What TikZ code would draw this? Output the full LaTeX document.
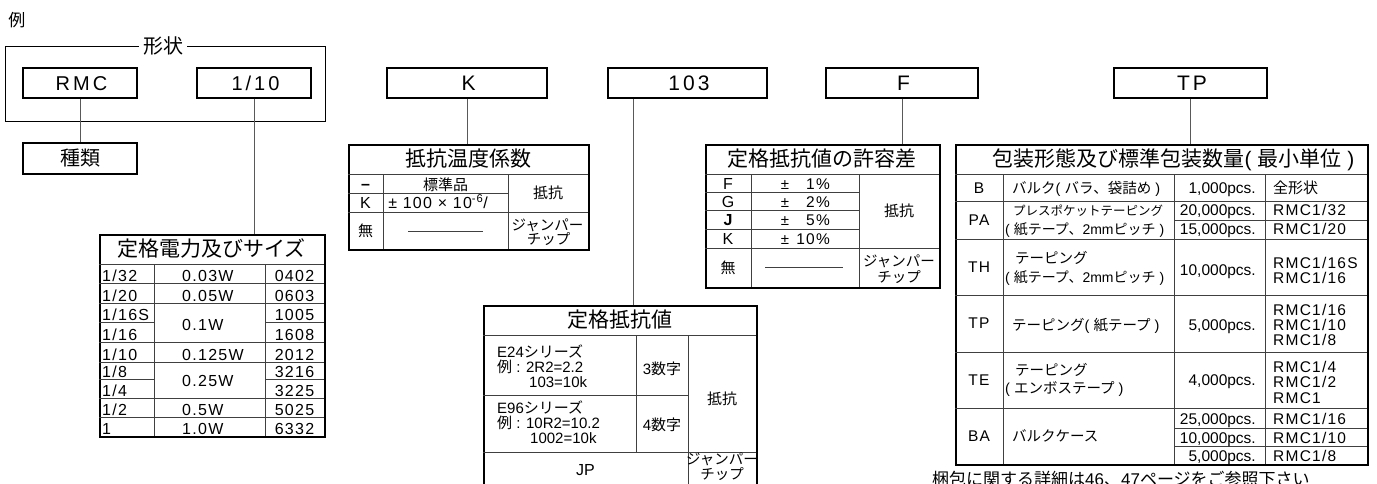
\documentclass[tikz,border=0pt]{standalone}
\usepackage{fontspec}
\setmainfont{Liberation Sans}
\newfontfamily\jp{Noto Sans CJK JP}
\newfontfamily\ls[LetterSpace=15]{Liberation Sans}
\newfontfamily\lss[LetterSpace=8]{Liberation Sans}
\newcommand\myfs[1]{\fontsize{#1}{#1}\selectfont}
\tikzset{
 keybox/.style={draw=black, line width=1.3pt, minimum height=30pt, inner sep=0pt, text height=15pt, text depth=0pt, font=\ls\myfs{21}},
 tframe/.style={draw=black, line width=1.5pt, anchor=north west, inner sep=0pt},
 tgrid/.style={draw=black!75, line width=0.9pt},
 conn/.style={draw=black!65, line width=1pt},
 ttl/.style={anchor=base, yshift=-7.8pt, inner sep=0pt, font=\jp\myfs{21}},
 cellc/.style={anchor=base, yshift=-5.5pt, inner sep=0pt},
 celll/.style={anchor=base west, yshift=-5.5pt, inner sep=0pt},
 cellr/.style={anchor=base east, yshift=-5.5pt, inner sep=0pt},
 bw/.style={anchor=base west, inner sep=0pt},
 be/.style={anchor=base east, inner sep=0pt},
 bc/.style={anchor=base, inner sep=0pt},
}
\begin{document}
\begin{tikzpicture}[x=1pt,y=-1pt,font=\myfs{15}]
\useasboundingbox (0,0) rectangle (1377,483);
\fill[white] (0,0) rectangle (1377,483);

% ---------- example label and shape frame
\node[cellc, font=\jp\myfs{17}, yshift=-0.8pt] (rei) at (17,20.5) {例};
\node[draw=black, line width=1.4pt, anchor=north west, minimum width=320pt, minimum height=75pt, inner sep=0pt] (shape) at (5,45.5) {};
\node[fill=white, inner xsep=4pt, inner ysep=1pt, font=\jp\myfs{20}] (shapettl) at (163,46) {形状};

% ---------- key boxes
\node[keybox, minimum width=114pt, font=\ls\myfs{20}] (rmc) at (80,83) {\hspace{3pt}RMC};
\node[keybox, minimum width=114pt, font=\ls\myfs{20}] (n110) at (254,83) {\hspace{3pt}1/10};
\node[keybox, minimum width=114pt, minimum height=31pt, font=\jp\myfs{20}, text height=15pt, text depth=1pt] (shurui) at (80,158.5) {種類};
\node[keybox, minimum width=160pt] (nK) at (467,83) {\hspace{3pt}K};
\node[keybox, minimum width=159pt] (n103) at (687.5,83) {\hspace{3pt}103};
\node[keybox, minimum width=152pt] (nF) at (902,83) {\hspace{3pt}F};
\node[keybox, minimum width=153pt] (nTP) at (1190.5,83) {\hspace{3pt}TP};

% ---------- table: rated power and size
\node[tframe, minimum width=225pt, minimum height=202pt] (pw) at (99,234) {};
\node[ttl] (pwttl) at (211.5,249) {定格電力及びサイズ};
\draw[tgrid] (99,264) -- (324,264);
\draw[tgrid] (154,264) -- (154,436);
\draw[tgrid] (265,264) -- (265,436);
\foreach \yy in {283,303,342,362,398,417} \draw[tgrid] (99,\yy) -- (324,\yy);
\foreach \yy in {322,379} {\draw[tgrid] (99,\yy) -- (154,\yy); \draw[tgrid] (265,\yy) -- (324,\yy);}
\begin{scope}[every node/.append style={font=\lss\myfs{16}}]
\node[bw] (pwa1) at (102,281.5) {1/32};
\node[bw] (pwa2) at (102,301.5) {1/20};
\node[bw] (pwa3) at (102,320.5) {1/16S};
\node[bw] (pwa4) at (102,340.5) {1/16};
\node[bw] (pwa5) at (102,360.5) {1/10};
\node[bw] (pwa6) at (102,377.5) {1/8};
\node[bw] (pwa7) at (102,396.5) {1/4};
\node[bw] (pwa8) at (102,415.5) {1/2};
\node[bw] (pwa9) at (102,434.5) {1};
\node[bw] (pwb1) at (182,281.5) {0.03W};
\node[bw] (pwb2) at (182,301.5) {0.05W};
\node[bw] (pwb3) at (182,330) {0.1W};
\node[bw] (pwb5) at (182,360.5) {0.125W};
\node[bw] (pwb6) at (182,386.5) {0.25W};
\node[bw] (pwb8) at (182,415.5) {0.5W};
\node[bw] (pwb9) at (182,434.5) {1.0W};
\node[bc] (pwc1) at (294.5,281.5) {0402};
\node[bc] (pwc2) at (294.5,301.5) {0603};
\node[bc] (pwc3) at (294.5,320.5) {1005};
\node[bc] (pwc4) at (294.5,340.5) {1608};
\node[bc] (pwc5) at (294.5,360.5) {2012};
\node[bc] (pwc6) at (294.5,377.5) {3216};
\node[bc] (pwc7) at (294.5,396.5) {3225};
\node[bc] (pwc8) at (294.5,415.5) {5025};
\node[bc] (pwc9) at (294.5,434.5) {6332};
\end{scope}

% ---------- table: temperature coefficient
\node[tframe, minimum width=240pt, minimum height=105pt] (tc) at (348,144) {};
\node[ttl] (tcttl) at (468,159) {抵抗温度係数};
\draw[tgrid] (348,174) -- (588,174);
\draw[tgrid] (383,174) -- (383,249);
\draw[tgrid] (508,174) -- (508,249);
\draw[tgrid] (348,193) -- (508,193);
\draw[tgrid] (348,212) -- (588,212);
\node[cellc, font=\bfseries\myfs{16}] (tca1) at (365.5,184) {–};
\node[cellc, font=\jp\myfs{15}] (tcb1) at (445.5,185) {標準品};
\node[cellc, font=\myfs{16}] (tca2) at (365.5,202.5) {K};
\node[cellc, font=\lss\myfs{16}] (tcb2) at (438,203) {± 100 × 10\textsuperscript{-6}/};
\node[cellc, font=\jp\myfs{15}] (tcc1) at (548,193) {抵抗};
\node[cellc, font=\jp\myfs{15}] (tca3) at (365.5,230.5) {無};
\draw[tgrid] (408,231) -- (483,231);
\node[cellc, font=\jp\myfs{14.5}] (tcc2) at (547.5,225) {ジャンパー};
\node[cellc, font=\jp\myfs{14.5}] (tcc3) at (548.5,239) {チップ};

% ---------- table: rated resistance
\node[tframe, minimum width=273pt, minimum height=200pt] (rv) at (483,305) {};
\node[ttl] (rvttl) at (619.5,320) {定格抵抗値};
\draw[tgrid] (483,335) -- (756,335);
\draw[tgrid] (636,335) -- (636,452);
\draw[tgrid] (688,335) -- (688,505);
\draw[tgrid] (483,395) -- (688,395);
\draw[tgrid] (483,452) -- (756,452);
\node[bw] (rva1) at (497,357) {E24{\jp シリーズ}};
\node[bw] (rva2) at (497,372) {{\jp 例} : 2R2=2.2};
\node[bw] (rva3) at (529,387) {103=10k};
\node[bw] (rvb1) at (497,413) {E96{\jp シリーズ}};
\node[bw] (rvb2) at (497,428) {{\jp 例} : 10R2=10.2};
\node[bw] (rvb3) at (530,443) {1002=10k};
\node[cellc] (rvc1) at (662,369) {3{\jp 数字}};
\node[cellc] (rvc2) at (662,425) {4{\jp 数字}};
\node[cellc, font=\jp\myfs{15}] (rvd1) at (722,399) {抵抗};
\node[cellc, font=\myfs{16}] (rvjp) at (585.5,470) {JP};
\node[cellc, font=\jp\myfs{14.5}] (rvd2) at (722,459) {ジャンパー};
\node[cellc, font=\jp\myfs{14.5}] (rvd3) at (722,474) {チップ};

% ---------- table: tolerance
\node[tframe, minimum width=234pt, minimum height=143pt] (tol) at (705,144) {};
\node[ttl] (tolttl) at (822,159) {定格抵抗値の許容差};
\draw[tgrid] (705,174) -- (939,174);
\draw[tgrid] (751,174) -- (751,287);
\draw[tgrid] (859,174) -- (859,287);
\foreach \yy in {192,210,229} \draw[tgrid] (705,\yy) -- (859,\yy);
\draw[tgrid] (705,248) -- (939,248);
\node[cellc, font=\myfs{16}] (tola1) at (728,183.5) {F};
\node[cellc, font=\myfs{16}] (tola2) at (728,201.5) {G};
\node[cellc, font=\bfseries\myfs{16}] (tola3) at (728,220) {J};
\node[cellc, font=\myfs{16}] (tola4) at (728,239) {K};
\node[cellc] (tolpm1) at (785,183.5) {±};
\node[cellc] (tolpm2) at (785,201.5) {±};
\node[cellc] (tolpm3) at (785,220) {±};
\node[cellc] (tolpm4) at (785,239) {±};
\node[cellr, font=\lss\myfs{15.5}] (tolb1) at (830,183.5) {1\%};
\node[cellr, font=\lss\myfs{15.5}] (tolb2) at (830,201.5) {2\%};
\node[cellr, font=\lss\myfs{15.5}] (tolb3) at (830,220) {5\%};
\node[cellr, font=\lss\myfs{15.5}] (tolb4) at (830,239) {10\%};
\node[cellc, font=\jp\myfs{15}] (tolc1) at (899,211) {抵抗};
\node[cellc, font=\jp\myfs{15}] (tola5) at (728,267.5) {無};
\draw[tgrid] (765,267) -- (843,267);
\node[cellc, font=\jp\myfs{14.5}] (tolc2) at (899,261) {ジャンパー};
\node[cellc, font=\jp\myfs{14.5}] (tolc3) at (899,277) {チップ};

% ---------- table: packaging
\node[tframe, minimum width=412pt, minimum height=320pt] (pk) at (955,144) {};
\node[ttl, font=\myfs{21}] (pkttl) at (1173.5,159) {{\jp 包装形態及び標準包装数量}( {\jp 最小単位} )};
\draw[tgrid] (955,174) -- (1367,174);
\foreach \xx in {1003,1174,1265} \draw[tgrid] (\xx,174) -- (\xx,464);
\foreach \yy in {201,239,295,352,408} \draw[tgrid] (955,\yy) -- (1367,\yy);
\foreach \yy in {220,428,446} \draw[tgrid] (1174,\yy) -- (1367,\yy);
% col 1
\node[cellc, font=\lss\myfs{15.5}] (pkB) at (979,188) {B};
\node[cellc, font=\lss\myfs{15.5}] (pkPA) at (979,220) {PA};
\node[cellc, font=\lss\myfs{15.5}] (pkTH) at (979,267) {TH};
\node[cellc, font=\lss\myfs{15.5}] (pkTP) at (979,323) {TP};
\node[cellc, font=\lss\myfs{15.5}] (pkTE) at (979,380) {TE};
\node[cellc, font=\lss\myfs{15.5}] (pkBA) at (979,436) {BA};
% col 2
\node[celll, font=\myfs{14.5}] (pkb1) at (1012,188) {{\jp バルク}( {\jp バラ、袋詰め} )};
\node[celll, font=\jp\myfs{12.5}] (pkb2) at (1013,210) {プレスポケットテーピング};
\node[celll, font=\myfs{14}] (pkb3) at (1005,229) {( {\jp 紙テープ、}2mm{\jp ピッチ} )};
\node[celll, font=\jp\myfs{14.5}] (pkb4) at (1015,258) {テーピング};
\node[celll, font=\myfs{14}] (pkb5) at (1005,277) {( {\jp 紙テープ、}2mm{\jp ピッチ} )};
\node[celll, font=\myfs{14.5}] (pkb6) at (1012,325) {{\jp テーピング}( {\jp 紙テープ} )};
\node[celll, font=\jp\myfs{14.5}] (pkb7) at (1015,370) {テーピング};
\node[celll, font=\myfs{14.5}] (pkb8) at (1005,388) {( {\jp エンボステープ} )};
\node[celll, font=\jp\myfs{14.5}] (pkb9) at (1012,436) {バルクケース};
% col 3
\node[cellr, font=\myfs{15.5}] (pkc1) at (1256,188) {1,000pcs.};
\node[cellr, font=\myfs{15.5}] (pkc2) at (1256,210) {20,000pcs.};
\node[cellr, font=\myfs{15.5}] (pkc3) at (1256,229) {15,000pcs.};
\node[cellr, font=\myfs{15.5}] (pkc4) at (1256,270) {10,000pcs.};
\node[cellr, font=\myfs{15.5}] (pkc5) at (1256,325) {5,000pcs.};
\node[cellr, font=\myfs{15.5}] (pkc6) at (1256,380) {4,000pcs.};
\node[cellr, font=\myfs{15.5}] (pkc7) at (1256,419) {25,000pcs.};
\node[cellr, font=\myfs{15.5}] (pkc8) at (1256,437.5) {10,000pcs.};
\node[cellr, font=\myfs{15.5}] (pkc9) at (1256,456) {5,000pcs.};
% col 4
\begin{scope}[every node/.append style={font=\lss\myfs{15.5}}]
\node[celll, font=\jp\myfs{15}] (pkd1) at (1273,188) {全形状};
\node[celll] (pkd2) at (1273,210) {RMC1/32};
\node[celll] (pkd3) at (1273,229) {RMC1/20};
\node[celll] (pkd4) at (1273,263) {RMC1/16S};
\node[celll] (pkd5) at (1273,278) {RMC1/16};
\node[celll] (pkd6) at (1273,310) {RMC1/16};
\node[celll] (pkd7) at (1273,325) {RMC1/10};
\node[celll] (pkd8) at (1273,340) {RMC1/8};
\node[celll] (pkd9) at (1273,367) {RMC1/4};
\node[celll] (pkd10) at (1273,382) {RMC1/2};
\node[celll] (pkd11) at (1273,398) {RMC1};
\node[celll] (pkd12) at (1273,419) {RMC1/16};
\node[celll] (pkd13) at (1273,437.5) {RMC1/10};
\node[celll] (pkd14) at (1273,456) {RMC1/8};
\end{scope}
\node[bw, font=\myfs{17}] (note) at (932,485) {{\jp 梱包に関する詳細は}46{\jp 、}47{\jp ページをご参照下さい}};

% ---------- connectors
\draw[conn] (rmc.south) -- (shurui.north);
\draw[conn] (n110.south) -- (n110.south |- pw.north);
\draw[conn] (nK.south) -- (nK.south |- tc.north);
\coordinate (c103) at ([xshift=26.5pt]n103.south west);
\draw[conn] (c103) -- (c103 |- rv.north);
\draw[conn] (nF.south) -- (nF.south |- tol.north);
\draw[conn] (nTP.south) -- (nTP.south |- pk.north);
\end{tikzpicture}
\end{document}
